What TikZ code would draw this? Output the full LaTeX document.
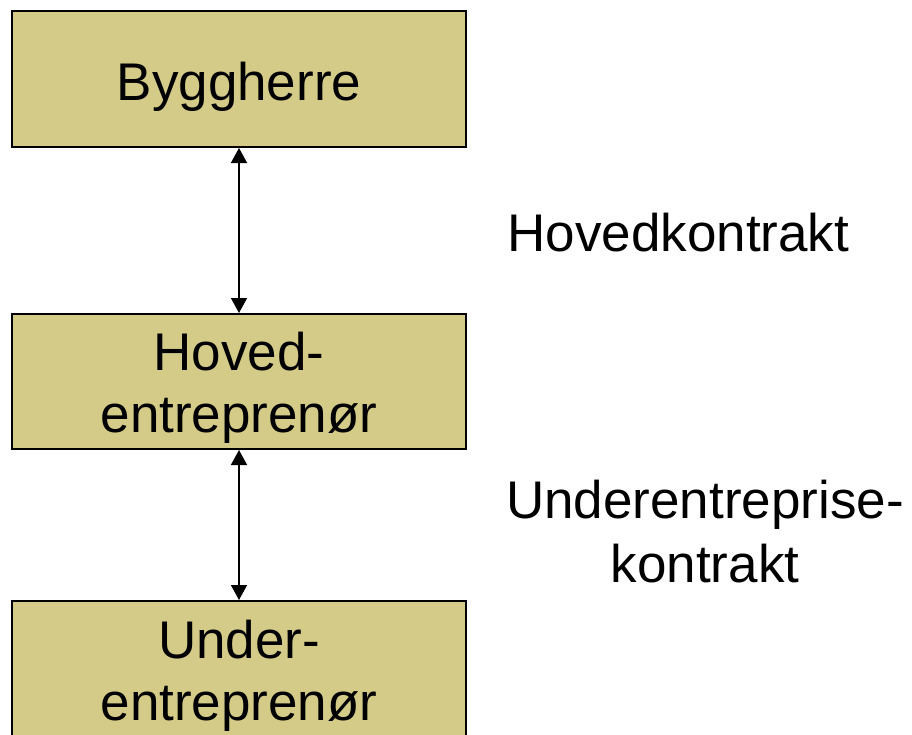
\documentclass[tikz,border=0pt]{standalone}
\usepackage{fontspec}
\setmainfont{Liberation Sans}
\usetikzlibrary{arrows.meta,positioning}
\definecolor{boxfill}{HTML}{D3CB87}

\begin{document}
\begin{tikzpicture}[x=1pt, y=-1pt, font=\fontsize{53}{62}\selectfont,
    party/.style = {draw, line width=2pt, fill=boxfill, minimum width=454pt, inner sep=0pt, align=center},
    contract/.style = {<->, >={Triangle[length=15pt,width=16pt]}, line width=1.5pt}]
    \useasboundingbox (0,0) rectangle (912,734);
    \node[party, anchor=north, text height=89pt, text depth=47pt] (bygg) at (239,10) {Byggherre};
    \node[party, below=165pt of bygg, text height=118pt, text depth=17pt] (hoved) {Hoved-\\entreprenør};
    \node[party, below=150pt of hoved, text height=119pt, text depth=17pt] (under) {Under-\\entreprenør};
    \node[anchor=base west] (hkontrakt) at (504,251) {Hovedkontrakt};
    \node[anchor=base, align=center, font=\fontsize{53}{64}\selectfont] (ukontrakt) at (705,582) {Underentreprise-\\kontrakt};
    \draw[contract] (bygg) to (hoved);
    \draw[contract] (hoved) to (under);
\end{tikzpicture}
\end{document}
